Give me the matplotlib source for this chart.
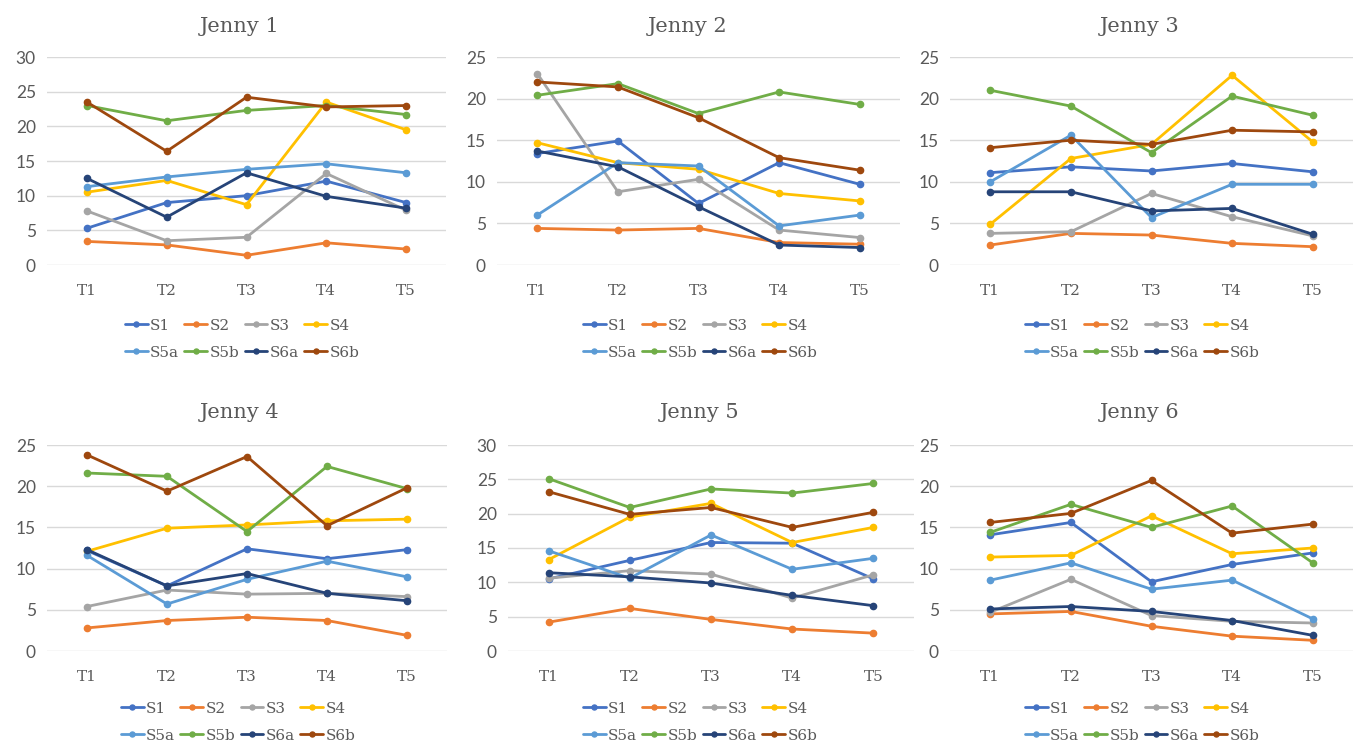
import matplotlib.pyplot as plt
import numpy as np

times = ["T1", "T2", "T3", "T4", "T5"]
series = ["S1", "S2", "S3", "S4", "S5a", "S5b", "S6a", "S6b"]
colors = ["#4472C4", "#ED7D31", "#A5A5A5", "#FFC000",
          "#5B9BD5", "#70AD47", "#264478", "#9E480E"]

jenny1 = [
    [5.3, 9.0, 10.0, 12.1, 9.0],
    [3.4, 2.9, 1.4, 3.2, 2.3],
    [7.8, 3.5, 4.0, 13.2, 7.9],
    [10.5, 12.2, 8.7, 23.5, 19.5],
    [11.3, 12.7, 13.8, 14.6, 13.3],
    [23.0, 20.8, 22.3, 23.0, 21.7],
    [12.5, 6.9, 13.3, 9.9, 8.2],
    [23.5, 16.4, 24.2, 22.8, 23.0],
]
jenny2 = [
    [13.4, 14.9, 7.4, 12.3, 9.7],
    [4.4, 4.2, 4.4, 2.7, 2.5],
    [23.0, 8.8, 10.3, 4.2, 3.3],
    [14.7, 12.3, 11.5, 8.6, 7.7],
    [6.0, 12.3, 11.9, 4.7, 6.0],
    [20.4, 21.8, 18.2, 20.8, 19.3],
    [13.7, 11.8, 7.0, 2.4, 2.1],
    [22.0, 21.4, 17.7, 12.9, 11.4],
]
jenny3 = [
    [11.1, 11.8, 11.3, 12.2, 11.2],
    [2.4, 3.8, 3.6, 2.6, 2.2],
    [3.8, 4.0, 8.6, 5.8, 3.5],
    [4.9, 12.8, 14.5, 22.8, 14.8],
    [10.0, 15.6, 5.7, 9.7, 9.7],
    [21.0, 19.1, 13.5, 20.3, 18.0],
    [8.8, 8.8, 6.5, 6.8, 3.7],
    [14.1, 15.0, 14.5, 16.2, 16.0],
]
jenny4 = [
    [12.2, 7.9, 12.4, 11.2, 12.3],
    [2.8, 3.7, 4.1, 3.7, 1.9],
    [5.4, 7.4, 6.9, 7.0, 6.6],
    [12.1, 14.9, 15.3, 15.8, 16.0],
    [11.6, 5.7, 8.7, 10.9, 9.0],
    [21.6, 21.2, 14.5, 22.4, 19.7],
    [12.3, 7.9, 9.4, 7.0, 6.1],
    [23.8, 19.4, 23.6, 15.2, 19.8],
]
jenny5 = [
    [10.5, 13.2, 15.8, 15.7, 10.5],
    [4.2, 6.2, 4.6, 3.2, 2.6],
    [10.6, 11.7, 11.2, 7.7, 11.1],
    [13.3, 19.5, 21.5, 15.8, 18.0],
    [14.6, 10.6, 16.9, 11.9, 13.5],
    [25.1, 20.9, 23.6, 23.0, 24.4],
    [11.4, 10.8, 9.9, 8.1, 6.6],
    [23.2, 19.9, 20.9, 18.0, 20.2],
]
jenny6 = [
    [14.1, 15.6, 8.4, 10.5, 11.9],
    [4.5, 4.8, 3.0, 1.8, 1.3],
    [4.7, 8.7, 4.3, 3.6, 3.4],
    [11.4, 11.6, 16.4, 11.8, 12.5],
    [8.6, 10.7, 7.5, 8.6, 3.9],
    [14.4, 17.8, 15.0, 17.6, 10.7],
    [5.1, 5.4, 4.8, 3.7, 1.9],
    [15.6, 16.7, 20.7, 14.3, 15.4],
]

titles = ["Jenny 1", "Jenny 2", "Jenny 3", "Jenny 4", "Jenny 5", "Jenny 6"]
datasets = [jenny1, jenny2, jenny3, jenny4, jenny5, jenny6]
ymaxes = [30, 25, 25, 25, 30, 25]

W, H = 1359, 749
fig = plt.figure(figsize=(W / 100, H / 100), dpi=100)

# pixel boxes (left, right, top, bottom) of each plot area
boxes = [
    (47, 446, 57, 265), (497, 900, 57, 265), (950, 1353, 57, 265),
    (47, 447, 445, 651), (508, 914, 445, 651), (950, 1353, 445, 651),
]
title_pos = [(240, 27), (688, 27), (1140, 27), (240, 412), (700, 412), (1140, 412)]
legend_pos = [(242, 311), (700, 311), (1142, 311), (238, 694), (700, 694), (1142, 694)]

serif = "DejaVu Serif"
grey = "#595959"

# legend fills column by column, so interleave to get S1..S4 on the first row
order = [0, 4, 1, 5, 2, 6, 3, 7]

for k in range(6):
    l, r, t, b = boxes[k]
    ax = fig.add_axes([l / W, 1 - b / H, (r - l) / W, (b - t) / H])
    x = np.arange(len(times))
    lines = []
    for s in range(len(series)):
        ln, = ax.plot(x, datasets[k][s], color=colors[s], lw=2.0, marker="o",
                      ms=4.5, label=series[s], solid_capstyle="round")
        lines.append(ln)
    ax.set_xlim(-0.5, 4.5)
    ax.set_ylim(0, ymaxes[k])
    ax.set_yticks(np.arange(0, ymaxes[k] + 1, 5))
    ax.set_xticks(x)
    ax.set_xticklabels(times, fontfamily=serif, fontsize=11, color=grey)
    for lab in ax.get_yticklabels():
        lab.set_fontfamily("Lato")
        lab.set_fontsize(12.5)
        lab.set_color(grey)
    ax.tick_params(length=0, pad=14)
    ax.tick_params(axis="y", pad=8)
    ax.grid(axis="y", color="#D9D9D9", lw=1)
    ax.set_axisbelow(True)
    for sp in ax.spines.values():
        sp.set_visible(False)

    fig.text(title_pos[k][0] / W, 1 - title_pos[k][1] / H, titles[k],
             ha="center", va="center", fontfamily=serif, fontsize=15, color=grey)

    leg = ax.legend([lines[i] for i in order], [series[i] for i in order],
                    loc="upper center", ncol=4, frameon=False,
                    bbox_to_anchor=(legend_pos[k][0] / W, 1 - legend_pos[k][1] / H),
                    bbox_transform=fig.transFigure,
                    prop={"family": serif, "size": 11}, handlelength=1.5,
                    handletextpad=0.15, columnspacing=0.35, labelspacing=0.85,
                    borderpad=0, numpoints=1, markerscale=0.8)
    for txt in leg.get_texts():
        txt.set_color(grey)

fig.savefig("out.png", dpi=100)
